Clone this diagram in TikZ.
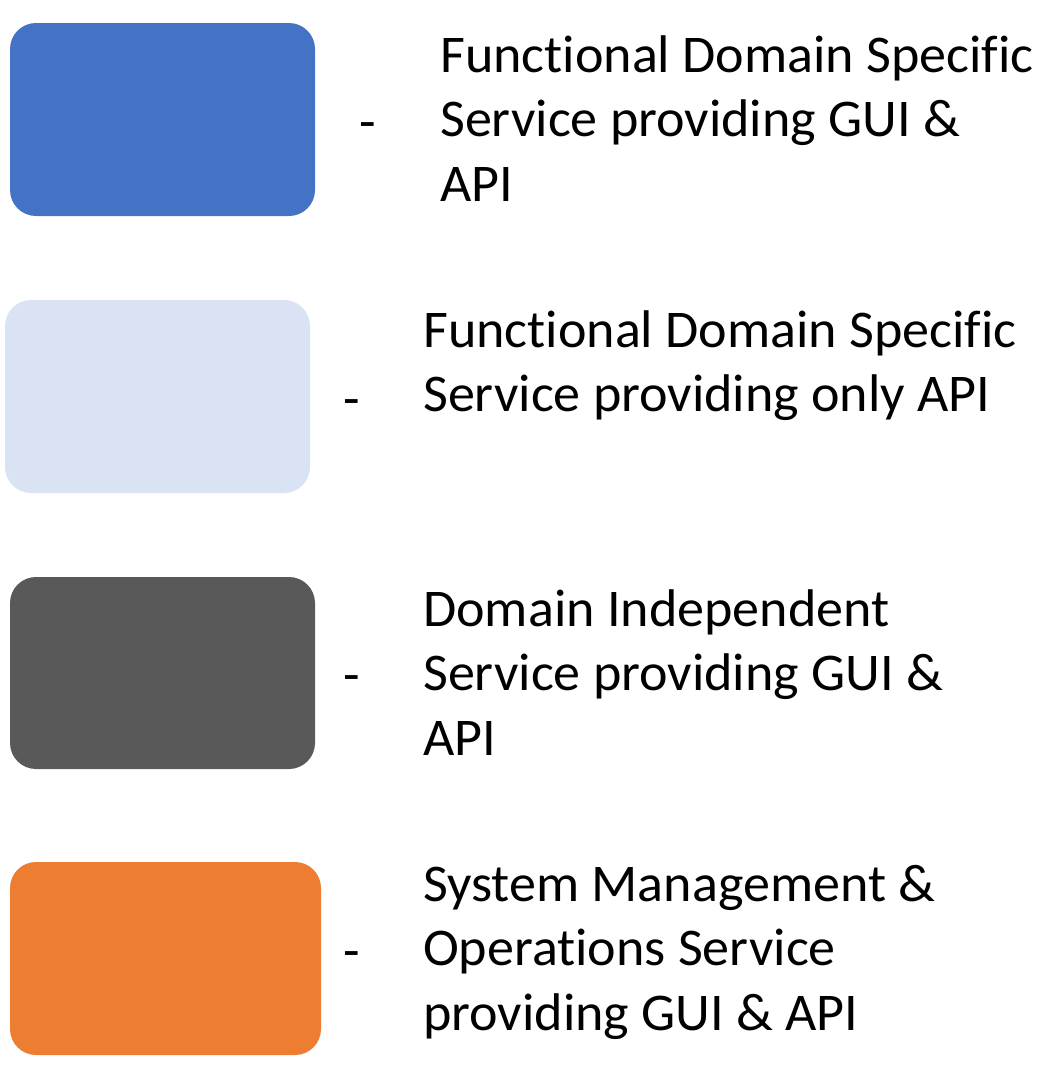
\documentclass[tikz,border=0pt]{standalone}
\usepackage{fontspec}
\setmainfont{Carlito}[FakeStretch=1.02,Ligatures=NoCommon]
\definecolor{fdsGui}{HTML}{4472C4}
\definecolor{fdsApi}{HTML}{DAE3F3}
\definecolor{indep}{HTML}{595959}
\definecolor{sysops}{HTML}{ED7D31}
\begin{document}
\begin{tikzpicture}[x=1pt,y=-1pt,
  swatch/.style={rounded corners=26pt},
  label/.style={anchor=north west,inner sep=0pt,align=left,
    font=\fontsize{53}{64.5}\selectfont},
  bullet/.style={inner sep=0pt,font=\fontsize{53}{64.5}\selectfont}]
\useasboundingbox (0,0) rectangle (1048,1066);
% colour swatches
\fill[fdsGui,swatch] (10,23) rectangle (315,216);
\fill[fdsApi,swatch] (5,300) rectangle (310,493);
\fill[indep,swatch] (10,577) rectangle (315,769);
\fill[sysops,swatch] (10,862) rectangle (321,1055);
% dashes
\node[bullet] (d1) at (368,131) {-};
\node[bullet] (d2) at (352,408) {-};
\node[bullet] (d3) at (352,684) {-};
\node[bullet] (d4) at (352,960) {-};
% descriptions
\node[label] (t1) at (440,35) {Functional Domain Specific\\Service providing GUI \&\\API};
\node[label] (t2) at (423,310) {Functional Domain Specific\\Service providing only API};
\node[label] (t3) at (423,589) {Domain Independent\\Service providing GUI \&\\API};
\node[label] (t4) at (423,865) {System Management \&\\Operations Service\\providing GUI \& API};
\end{tikzpicture}
\end{document}
